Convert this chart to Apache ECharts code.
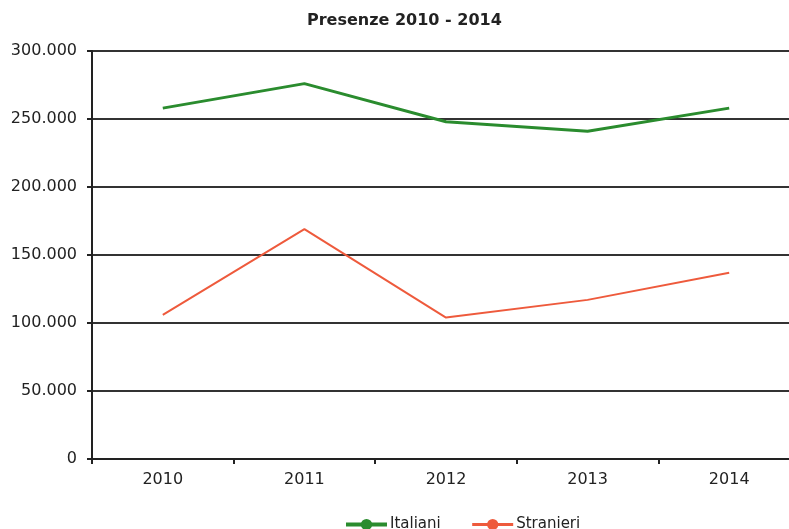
<!DOCTYPE html>
<html><head><meta charset="utf-8">
<script src="https://cdn.jsdelivr.net/npm/echarts@6/dist/echarts.min.js"></script>
<style>html,body{margin:0;padding:0;background:#fff;overflow:hidden}#c{width:800px;height:529px}</style>
</head><body><div id="c"></div>
<script>
const years = ['2010','2011','2012','2013','2014'];
const italiani = [258000, 276000, 248000, 241000, 258000];
const stranieri = [106000, 169000, 104000, 117000, 137000];
const yTicks = [0, 50000, 100000, 150000, 200000, 250000, 300000];

const fmt = v => v === 0 ? '0' : String(v).replace(/\B(?=(\d{3})+(?!\d))/g, '.');
const chart = echarts.init(document.getElementById('c'));
chart.setOption({
  animation: false,
  title: {text: 'Presenze 2010 - 2014', left: 302, top: 8,
    textStyle: {fontFamily: 'DejaVu Sans', fontWeight: 'bold', fontSize: 16, color: '#222'}},
  legend: {top: 512, left: 339, itemWidth: 41, itemHeight: 14, itemGap: 30,
    data: [
      {name: 'Italiani', lineStyle: {width: 4}},
      {name: 'Stranieri', lineStyle: {width: 3}}
    ],
    textStyle: {fontFamily: 'DejaVu Sans, Verdana', fontSize: 15, color: '#222', padding:[0,0,0,-2]}},
  grid: {left: 92, top: 51, right: 0, height: 408},
  xAxis: {type: 'category', data: years, boundaryGap: true,
    axisLine: {lineStyle: {color: '#222', width: 2}},
    axisTick: {show: true, length: 5, lineStyle: {color: '#222', width: 2}},
    axisLabel: {fontFamily: 'DejaVu Sans, Verdana', fontSize: 16, color: '#222', margin: 13}},
  yAxis: {type: 'value', min: 0, max: 300000, interval: 50000,
    axisLine: {show: true, lineStyle: {color: '#222', width: 2}},
    axisTick: {show: true, length: 5, lineStyle: {color: '#222', width: 2}},
    splitLine: {lineStyle: {color: '#333', width: 2}},
    axisLabel: {formatter: fmt, fontFamily: 'DejaVu Sans, Verdana', fontSize: 16, color: '#222', margin: 15}},
  series: [
    {name: 'Italiani', type: 'line', data: italiani, symbol: 'circle', symbolSize: 8, showSymbol: false,
      itemStyle: {color: '#2a8c2e'}, lineStyle: {color: '#2a8c2e', width: 3}},
    {name: 'Stranieri', type: 'line', data: stranieri, symbol: 'circle', symbolSize: 8, showSymbol: false,
      itemStyle: {color: '#ee5a3c'}, lineStyle: {color: '#ee5a3c', width: 2}}
  ]
});
</script></body></html>
